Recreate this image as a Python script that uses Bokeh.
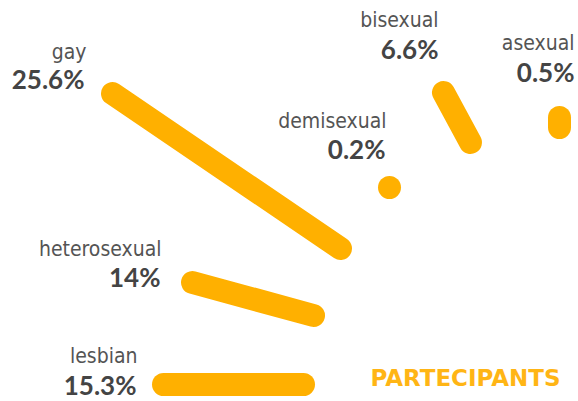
from bokeh.plotting import figure
from bokeh.models import Range1d, ColumnDataSource
from bokeh.core.properties import value
from bokeh.embed import file_html
from bokeh.resources import INLINE

# data
categories = ["gay", "heterosexual", "lesbian", "demisexual", "bisexual", "asexual"]
percent = [25.6, 14.0, 15.3, 0.2, 6.6, 0.5]
title_text = "PARTECIPANTS"

# layout (screen-like coordinates)
seg_x0 = [112, 192, 163, 389, 443, 559]
seg_y0 = [93, 282, 384, 187, 92, 117]
seg_x1 = [340, 313, 303, 389, 470, 559]
seg_y1 = [248, 315, 384, 187, 142, 127]
lab_x = [86, 161, 137, 386, 438, 574]
lab_y = [51, 248, 355, 120, 19, 42]
pct_x = [84, 160, 136, 385, 438, 574]
pct_y = [78, 276, 384, 148, 48, 71]

ORANGE = "#ffb000"
GREY = "#444444"
LABEL_GREY = "#545454"

p = figure(width=578, height=401, output_backend="svg", toolbar_location=None,
           x_range=Range1d(0, 578), y_range=Range1d(401, 0),
           min_border=0, outline_line_color=None)
p.axis.visible = False
p.grid.visible = False
p.background_fill_color = "white"
p.border_fill_color = "white"

seg = ColumnDataSource(dict(x0=seg_x0, y0=seg_y0, x1=seg_x1, y1=seg_y1))
p.segment("x0", "y0", "x1", "y1", source=seg, line_color=ORANGE,
          line_width=23, line_cap="round")

labs = ColumnDataSource(dict(x=lab_x, y=lab_y, t=categories))
p.text("x", "y", text="t", source=labs, text_align="right", text_baseline="alphabetic",
       text_font=value("'DejaVu Sans Condensed', 'Roboto Condensed', Roboto"),
       text_font_size="21px", text_color=LABEL_GREY)

pcts = ColumnDataSource(dict(x=pct_x, y=pct_y,
                             t=[("%g" % v) + "%" for v in percent]))
p.text("x", "y", text="t", source=pcts, text_align="right", text_baseline="alphabetic",
       text_font=value("Lato"), text_font_style="bold", text_font_size="26px",
       text_color=GREY)

p.text(x=[370], y=[377], text=[title_text], text_align="left", text_baseline="alphabetic",
       text_font=value("DejaVu Sans"), text_font_style="bold", text_font_size="23px",
       text_color="#ffb515")

open("out.html", "w").write(file_html(p, INLINE))
